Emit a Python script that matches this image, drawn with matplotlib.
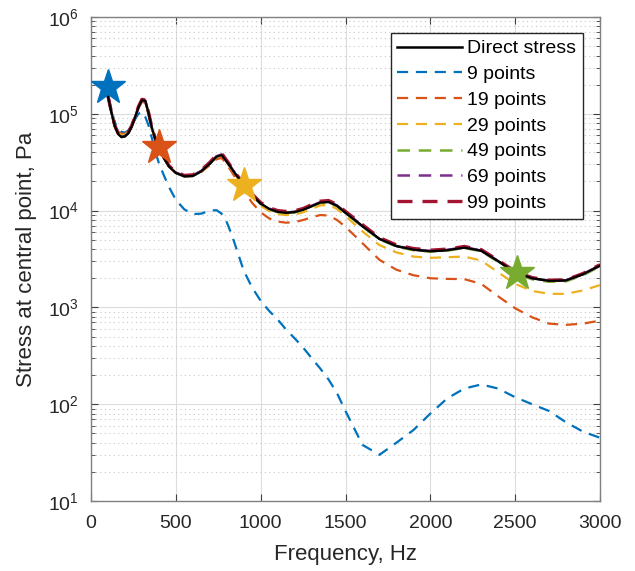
import matplotlib.pyplot as plt
from matplotlib.ticker import LogLocator, NullFormatter, MultipleLocator

plt.rcParams['font.family'] = ['Liberation Sans', 'DejaVu Sans']

# frequency grid (Hz) shared by all curves
freq = [100, 120, 140, 160, 180, 200, 220, 240, 260, 280, 300, 320, 340, 360, 380, 400, 430, 460,
        500, 550, 600, 650, 700, 740, 770, 800, 830, 860, 900, 950, 1000, 1050, 1100, 1150, 1200,
        1250, 1300, 1350, 1400, 1450, 1500, 1600, 1700, 1800, 1900, 2000, 2100, 2200, 2300, 2400,
        2500, 2600, 2700, 2800, 2900, 3000]

direct = [152000, 104000, 75000, 62000, 57500, 58500, 63000, 74000, 92000, 117000, 138000, 136000,
          100000, 70000, 54000, 45000, 35000, 28500, 24500, 22600, 22800, 25500, 30500, 36000,
          37500, 32000, 27000, 22700, 18600, 14400, 11800, 10400, 9700, 9500, 9650, 10200, 11100,
          12100, 12300, 11200, 9500, 6900, 5100, 4300, 3950, 3800, 3900, 4150, 3850, 3000, 2300,
          2000, 1880, 1900, 2200, 2700]

p9 = [152000, 110000, 82000, 70000, 65000, 64000, 67000, 76000, 88000, 100000, 105000, 93000,
      75000, 55000, 40000, 31000, 23000, 17500, 12900, 10300, 9200, 9300, 10000, 10100, 9300,
      7600, 5600, 3900, 2400, 1600, 1170, 920, 750, 590, 480, 385, 300, 235, 180, 130, 85,
      38, 30, 40, 54, 80, 115, 145, 160, 145, 118, 100, 85, 65, 52, 45]

p19 = [152000, 106000, 78000, 66000, 62000, 62000, 66000, 76000, 93000, 115000, 133000, 130000,
       98000, 70000, 54000, 45000, 35000, 28500, 24500, 22600, 22800, 25000, 29500, 34000,
       35000, 30000, 25000, 20500, 16000, 12000, 9600, 8300, 7700, 7500, 7600, 8000, 8500,
       9000, 8900, 8000, 6800, 4600, 3100, 2450, 2150, 2000, 1970, 1960, 1750, 1300, 980,
       790, 680, 660, 680, 730]

p29 = [152000, 106000, 77000, 64000, 60000, 61000, 65000, 75000, 93000, 116000, 136000, 134000,
       99000, 70000, 54000, 45000, 35000, 28500, 24500, 22800, 23200, 25800, 30500, 35500,
       37000, 31500, 26500, 22200, 18000, 13800, 11200, 9900, 9200, 9000, 9100, 9600, 10400,
       11300, 11500, 10400, 8800, 6100, 4400, 3700, 3350, 3250, 3300, 3350, 3050, 2300, 1750,
       1480, 1380, 1380, 1500, 1700]

p49 = [152000, 104000, 75000, 62000, 58000, 59000, 63500, 74500, 92500, 117000, 138000, 136000,
       100000, 70000, 54000, 45000, 35000, 28600, 24600, 22700, 22900, 25600, 30600, 36100,
       37600, 32000, 27000, 22700, 18600, 14300, 11700, 10300, 9650, 9450, 9600, 10150, 11050,
       12000, 12200, 11100, 9400, 6850, 5050, 4250, 3900, 3760, 3860, 4100, 3800, 2950, 2250,
       1950, 1840, 1860, 2150, 2650]

p69 = [152000, 104000, 75000, 62000, 58000, 59000, 63500, 74500, 92500, 117000, 139000, 137000,
       100000, 70000, 54000, 45000, 35000, 28600, 24700, 22800, 23000, 25700, 30800, 36500,
       38000, 32300, 27200, 22900, 18700, 14500, 11900, 10500, 9800, 9600, 9750, 10300, 11200,
       12200, 12400, 11300, 9600, 7000, 5150, 4330, 3980, 3830, 3930, 4180, 3880, 3020, 2310,
       2000, 1890, 1910, 2210, 2720]

p99 = [153000, 105000, 76000, 63000, 59000, 60000, 64500, 75500, 94000, 119000, 141000, 139000,
       102000, 71000, 55000, 46000, 35500, 29000, 25000, 23100, 23400, 26200, 31500, 37500,
       39000, 33000, 27800, 23300, 19000, 14800, 12100, 10700, 10000, 9800, 9950, 10500, 11500,
       12500, 12700, 11600, 9800, 7150, 5250, 4420, 4060, 3900, 4000, 4260, 3950, 3070, 2350,
       2030, 1910, 1930, 2240, 2760]

# star markers
star_x = [100, 400, 900, 2510]
star_y = [190000, 45000, 18500, 2250]

BLUE, ORANGE, YELLOW = '#0072BD', '#D95319', '#EDB120'
PURPLE, GREEN, RED = '#7E2F8E', '#77AC30', '#A2142F'

fig = plt.figure(figsize=(6.35, 5.71), dpi=100)
ax = fig.add_axes([91 / 635, 1 - 501 / 571, 509 / 635, 484 / 571])

dash = (5, 3.5)
ax.plot(freq, direct, color='black', lw=1.8, label='Direct stress', zorder=3)
ax.plot(freq, p9, color=BLUE, lw=1.6, dashes=dash, label='9 points', zorder=3)
ax.plot(freq, p19, color=ORANGE, lw=1.6, dashes=dash, label='19 points', zorder=3)
ax.plot(freq, p29, color=YELLOW, lw=1.6, dashes=dash, label='29 points', zorder=3)
ax.plot(freq, p49, color=GREEN, lw=1.8, dashes=dash, label='49 points', zorder=3)
ax.plot(freq, p69, color=PURPLE, lw=1.8, dashes=dash, label='69 points', zorder=3)
ax.plot(freq, p99, color=RED, lw=2.4, dashes=(4.5, 3), label='99 points', zorder=4)
ax.plot(freq, direct, color='black', lw=1.5, zorder=5)

for xs, ys, c in zip(star_x, star_y, [BLUE, ORANGE, YELLOW, GREEN]):
    ax.plot(xs, ys, marker='*', ms=26, color=c, mec=c, ls='none', zorder=6)

ax.set_yscale('log')
ax.set_xlim(0, 3000)
ax.set_ylim(10, 1e6)
ax.xaxis.set_major_locator(MultipleLocator(500))
ax.yaxis.set_major_locator(LogLocator(base=10, numticks=10))
ax.yaxis.set_minor_locator(LogLocator(base=10, subs=range(2, 10), numticks=20))
ax.yaxis.set_minor_formatter(NullFormatter())

ax.grid(which='major', color='#dcdcdc', lw=0.8)
ax.grid(which='minor', axis='y', color='#c8c8c8', lw=0.8, ls=(0, (1, 3)))
ax.set_axisbelow(True)

ax.tick_params(which='both', direction='in', top=True, right=True, labelsize=14,
               color='#404040', labelcolor='#262626')
ax.tick_params(which='major', length=5)
ax.tick_params(which='minor', length=3)
ax.tick_params(axis='x', pad=10)
ax.tick_params(axis='y', pad=9)
for s in ax.spines.values():
    s.set_color('#808080')
    s.set_linewidth(1.0)

ax.set_xlabel('Frequency, Hz', fontsize=16, color='#262626')
ax.set_ylabel('Stress at central point, Pa', fontsize=16, color='#262626')
ax.xaxis.set_label_coords(0.5, -0.089)
ax.yaxis.set_label_coords(-0.106, 0.5)

leg = ax.legend(loc='upper right', bbox_to_anchor=(0.967, 0.967), borderaxespad=0,
                fontsize=14, handlelength=3.3, handletextpad=0.3, labelspacing=0.42,
                fancybox=False, framealpha=1, edgecolor='#262626', borderpad=0.35)
leg.get_frame().set_linewidth(1.0)

fig.savefig('out.png', dpi=100)
